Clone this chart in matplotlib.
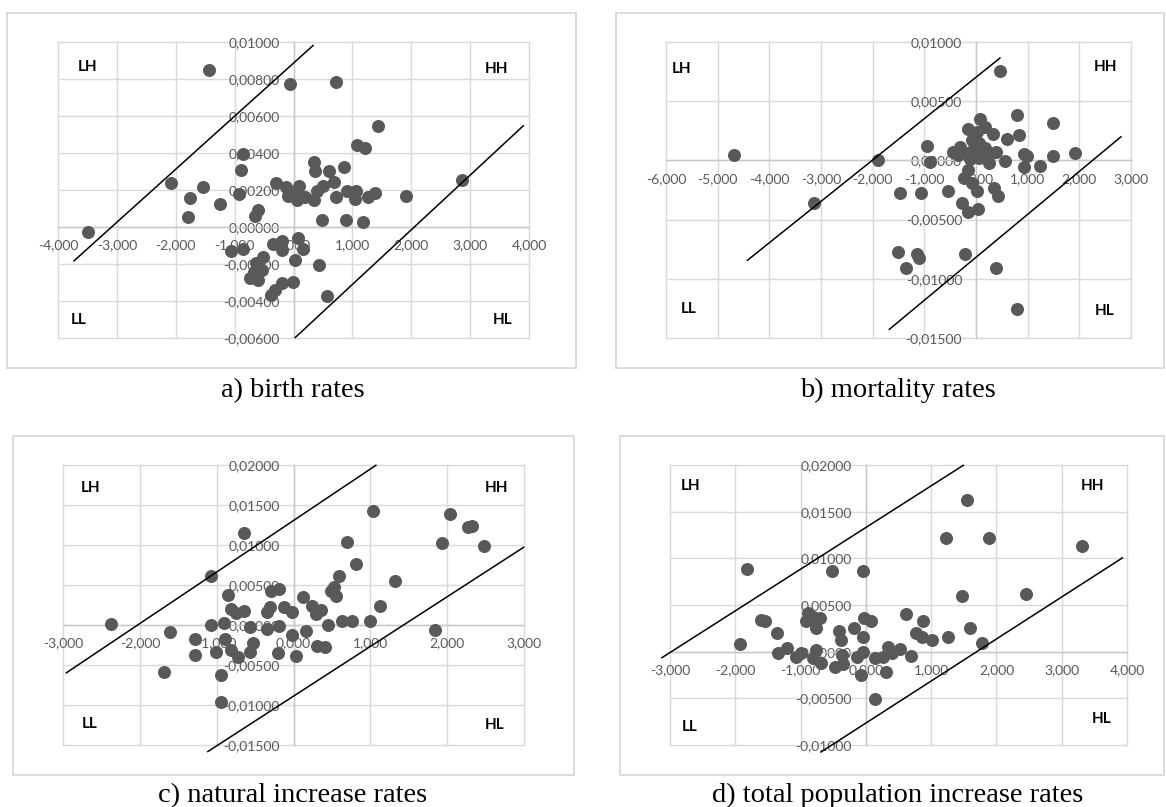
import numpy as np
import matplotlib
matplotlib.use('Agg')
import matplotlib.pyplot as plt
from matplotlib.patches import Rectangle
from matplotlib.ticker import FuncFormatter

W, H = 1166, 807

# a) birth rates
aX = [-3.496, -1.429, -0.063, 0.714, 1.441, 1.078, 1.222, -0.858, -0.890, -2.080, -1.535, -1.754,
      -1.798, -1.253, -0.921, -0.595, -0.658, -0.294, -0.125, 0.031, 0.094, -0.094, 0.063, 0.188,
      0.345, 0.357, 0.345, 0.407, 0.501, 0.595, 0.689, 0.720, 0.858, 0.908, 1.065, 1.053, 1.272,
      1.378, 1.911, 2.863, 0.489, 0.896, 1.178, -1.065, -0.858, -0.345, -0.201, -0.188, 0.069,
      0.169, 0.019, -0.514, -0.639, -0.739, -0.595, -0.533, -0.670, 0.439, -0.013, -0.201, -0.313,
      -0.388, 0.576]
aY = [-0.00025, 0.00847, 0.00771, 0.00786, 0.00545, 0.00443, 0.00427, 0.00395, 0.00309, 0.00237,
      0.00215, 0.00158, 0.00054, 0.00122, 0.00176, 0.00090, 0.00057, 0.00240, 0.00215, 0.00179,
      0.00224, 0.00170, 0.00144, 0.00161, 0.00350, 0.00305, 0.00144, 0.00197, 0.00224, 0.00305,
      0.00242, 0.00161, 0.00326, 0.00197, 0.00194, 0.00152, 0.00161, 0.00183, 0.00170, 0.00255,
      0.00036, 0.00036, 0.00025, -0.00129, -0.00118, -0.00090, -0.00075, -0.00122, -0.00059,
      -0.00117, -0.00179, -0.00161, -0.00197, -0.00274, -0.00287, -0.00233, -0.00242, -0.00203,
      -0.00296, -0.00305, -0.00341, -0.00368, -0.00373]
aLines = [[(-3.728, -0.00183), (0.332, 0.00981)], [(0.031, -0.00597), (3.903, 0.00547)]]
aLabels = {'LH': (-3.49, 0.00867), 'HH': (3.446, 0.00856), 'LL': (-3.647, -0.00502), 'HL': (3.553, -0.00502)}

# b) mortality rates
bX = [-4.693, -1.894, -3.138, -0.954, -0.882, 0.455, 0.795, 1.490, 0.080, -0.159, 0.022, 0.166,
      0.333, 0.600, 0.839, -0.087, 0.058, -0.304, -0.448, -0.340, -0.195, -0.051, 0.166, 0.275,
      0.383, 0.564, 0.260, 0.058, -0.123, 0.926, 0.983, 0.926, 1.236, 1.490, 1.923, -0.159,
      -0.231, 0.022, 0.347, 0.419, -0.268, -0.159, 0.043, -1.475, -1.063, -0.542, -1.511, -1.135,
      -1.099, -1.352, -0.210, 0.383, 0.795, -0.087]
bY = [0.00048, 0.0, -0.00362, 0.00121, -0.00011, 0.00752, 0.00381, 0.00317, 0.00353, 0.00261,
      0.00241, 0.00283, 0.00219, 0.00177, 0.00213, 0.00171, 0.00143, 0.00115, 0.00073, 0.00045,
      0.00059, 0.00087, 0.00101, 0.00053, 0.00073, -0.00003, -0.00020, 0.00017, 0.00008, 0.00053,
      0.00039, -0.00053, -0.00045, 0.00039, 0.00059, -0.00081, -0.00151, -0.00258, -0.00236,
      -0.00300, -0.00362, -0.00432, -0.00412, -0.00278, -0.00278, -0.00255, -0.00774, -0.00788,
      -0.00824, -0.00909, -0.00788, -0.00909, -0.01259, -0.00188]
bLines = [[(-4.425, -0.00844), (0.463, 0.00864)], [(-1.678, -0.01427), (2.805, 0.00199)]]
bLabels = {'LH': (-5.708, 0.00768), 'HH': (2.516, 0.00788), 'LL': (-5.56, -0.01251), 'HL': (2.48, -0.01273)}

# c) natural increase rates
cX = [-2.380, -1.611, -1.683, -1.288, -1.288, -1.072, -1.072, -0.899, -0.851, -0.817, -0.639,
      -0.649, -0.745, -0.562, -0.889, -1.010, -0.817, -0.721, -0.938, -0.938, -0.529, -0.562,
      -0.351, -0.351, -0.303, -0.288, -0.183, -0.192, -0.202, -0.120, -0.014, -0.024, 0.038,
      0.130, 0.159, 0.240, 0.288, 0.361, 0.303, 0.409, 0.447, 0.490, 0.553, 0.529, 0.591, 0.625,
      0.755, 0.697, 0.817, 1.000, 1.034, 1.130, 1.322, 1.841, 1.938, 2.043, 2.269, 2.322, 2.476]
cY = [0.00013, -0.00084, -0.00586, -0.00176, -0.00377, 0.00615, 0.0, 0.00021, 0.00377, 0.00197,
      0.01151, 0.00176, 0.00146, -0.00021, -0.00180, -0.00335, -0.00314, -0.00397, -0.00619,
      -0.00962, -0.00230, -0.00343, -0.00054, 0.00159, 0.00230, 0.00427, 0.00452, -0.00008,
      -0.00347, 0.00230, 0.00167, -0.00126, -0.00385, 0.00356, -0.00071, 0.00243, 0.00138,
      0.00188, -0.00259, -0.00280, 0.0, 0.00431, 0.00364, 0.00481, 0.00607, 0.00050, 0.00054,
      0.01033, 0.00766, 0.00054, 0.01423, 0.00243, 0.00544, -0.00063, 0.01025, 0.01389, 0.01222,
      0.01243, 0.00983]
cLines = [[(-2.957, -0.00598), (1.072, 0.01996)], [(-1.115, -0.01582), (2.995, 0.00971)]]
cLabels = {'LH': (-2.635, 0.01715), 'HH': (2.644, 0.01715), 'LL': (-2.659, -0.01234), 'HL': (2.62, -0.01255)}

# d) total population increase rates
dX = [-1.818, -1.932, -1.605, -1.548, -1.365, -1.347, -1.204, -0.992, -1.072, -0.889, -0.917,
      -0.803, -0.700, -0.763, -0.757, -0.803, -0.688, -0.516, -0.046, -0.419, -0.384, -0.183,
      -0.040, -0.029, 0.075, -0.373, -0.470, -0.344, -0.143, -0.046, -0.069, 0.143, 0.143, 0.258,
      0.304, 0.344, 0.401, 0.516, 0.688, 0.614, 0.774, 0.877, 0.860, 1.015, 1.261, 1.233, 1.548,
      1.881, 1.474, 1.594, 1.778, 2.454, 3.314]
dY = [0.00885, 0.00079, 0.00341, 0.00333, 0.00197, -0.00018, 0.00036, -0.00011, -0.00054, 0.00419,
      0.00330, 0.00376, 0.00358, 0.00251, 0.00018, -0.00072, -0.00125, 0.00860, 0.00860, 0.00222,
      0.00125, 0.00251, 0.00161, 0.00358, 0.00330, -0.00036, -0.00161, -0.00136, -0.00054, 0.0,
      -0.00251, -0.00509, -0.00072, -0.00054, -0.00215, 0.00047, -0.00018, 0.00025, -0.00047,
      0.00401, 0.00197, 0.00333, 0.00154, 0.00125, 0.00154, 0.01219, 0.01620, 0.01219, 0.00599,
      0.00258, 0.00090, 0.00616, 0.01136]
dLines = [[(-3.125, -0.00065), (1.491, 0.01996)], [(-0.688, -0.01075), (3.928, 0.01004)]]
dLabels = {'LH': (-2.678, 0.01774), 'HH': (3.469, 0.01774), 'LL': (-2.695, -0.00806), 'HL': (3.612, -0.00724)}

captions = ['a) birth rates', 'b) mortality rates', 'c) natural increase rates',
            'd) total population increase rates']

GRID = '#d9d9d9'
TEXT = '#595959'
DOT = '#595959'


def FigBox(x0, y0, x1, y1):
    # pixel box -> figure fraction [left, bottom, width, height]
    return [x0 / W, 1 - y1 / H, (x1 - x0) / W, (y1 - y0) / H]


def XFmt(v, pos):
    s = '{:.3f}'.format(v).replace('.', ',')
    if s == '-0,000':
        s = '0,000'
    return s


def YFmt(v, pos):
    s = '{:.5f}'.format(v).replace('.', ',')
    if s == '-0,00000':
        s = '0,00000'
    return s


def DrawPanel(fig, rect, xs, ys, xlim, xstep, ylim, ystep, lines, labels):
    ax = fig.add_axes(FigBox(*rect))
    ax.set_xlim(*xlim)
    ax.set_ylim(*ylim)
    ax.set_xticks(np.arange(xlim[0], xlim[1] + xstep / 2, xstep))
    ax.set_yticks(np.arange(ylim[0], ylim[1] + ystep / 2, ystep))
    ax.xaxis.set_major_formatter(FuncFormatter(XFmt))
    ax.yaxis.set_major_formatter(FuncFormatter(YFmt))
    ax.set_axisbelow(True)
    ax.grid(True, color=GRID, lw=1.0, clip_on=False)
    for side in ['top', 'right']:
        ax.spines[side].set_visible(False)
    ax.spines['left'].set_position(('data', 0))
    ax.spines['bottom'].set_position(('data', 0))
    for side in ['left', 'bottom']:
        ax.spines[side].set_color('#c8c8c8')
        ax.spines[side].set_linewidth(1.0)
        ax.spines[side].set_zorder(0.6)
    ax.tick_params(axis='x', length=0, pad=9, labelsize=10, labelcolor=TEXT)
    ax.tick_params(axis='y', length=0, pad=10, labelsize=10, labelcolor=TEXT)
    for lab in ax.get_xticklabels() + ax.get_yticklabels():
        lab.set_family('Lato')
    ax.patch.set_alpha(0)

    ax.scatter(xs, ys, s=88, color=DOT, linewidths=0, zorder=3, clip_on=False)
    for (p0, p1) in lines:
        ax.plot([p0[0], p1[0]], [p0[1], p1[1]], color='black', lw=1.1, zorder=4, clip_on=False)
    for name, (lx, ly) in labels.items():
        ax.text(lx, ly, name, ha='center', va='center', fontsize=11, fontweight='bold',
                family='Lato', color='black', zorder=5)
    return ax


fig = plt.figure(figsize=(W / 100, H / 100), dpi=100)

# outer chart frames
for (x0, y0, x1, y1) in [(7, 13, 576, 368), (616, 13, 1164, 368), (13, 436, 574, 775), (620, 436, 1164, 775)]:
    b = FigBox(x0, y0, x1, y1)
    fig.add_artist(Rectangle((b[0], b[1]), b[2], b[3], transform=fig.transFigure,
                             fill=False, edgecolor=GRID, lw=1.3))

DrawPanel(fig, (58, 42, 529, 338), aX, aY, (-4, 4), 1, (-0.006, 0.010), 0.002, aLines, aLabels)
DrawPanel(fig, (666, 42, 1131, 338), bX, bY, (-6, 3), 1, (-0.015, 0.010), 0.005, bLines, bLabels)
DrawPanel(fig, (63, 465, 524, 745), cX, cY, (-3, 3), 1, (-0.015, 0.020), 0.005, cLines, cLabels)
DrawPanel(fig, (670, 465, 1127, 745), dX, dY, (-3, 4), 1, (-0.010, 0.020), 0.005, dLines, dLabels)

capPos = [(293, 397), (898, 397), (293, 802), (898, 802)]
for cap, (cx, cy) in zip(captions, capPos):
    fig.text(cx / W, 1 - cy / H, cap, ha='center', va='baseline', family='Liberation Serif',
             fontsize=20.5, color='black')

fig.savefig('out.png', dpi=100)
